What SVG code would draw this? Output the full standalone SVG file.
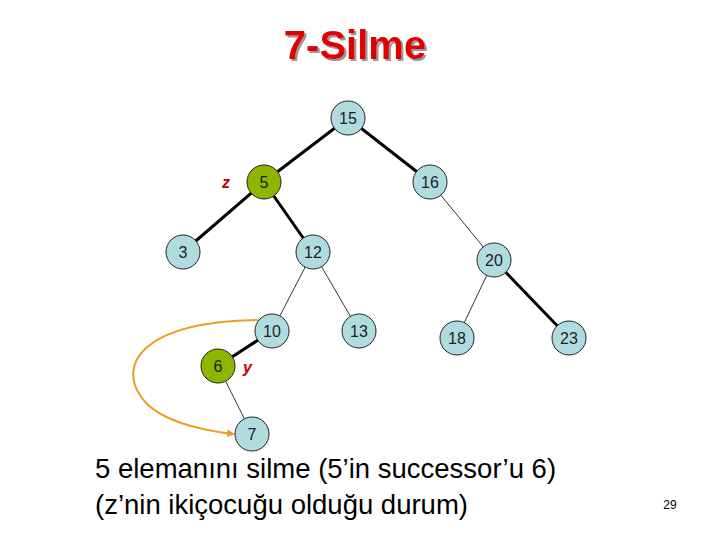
<svg xmlns="http://www.w3.org/2000/svg" width="720" height="540" viewBox="0 0 720 540">
<style>
.n{fill:#b0dce0;stroke:#222;stroke-width:1}
.g{fill:#8db600;stroke:#222;stroke-width:1}
.t{font-family:"Liberation Sans",Arial,sans-serif;font-size:16px;fill:#222;text-anchor:middle}
.thick{stroke:#000;stroke-width:3}
.thin{stroke:#000;stroke-width:0.8}
.lab{font-family:"Liberation Sans",Arial,sans-serif;font-size:16px;font-weight:bold;fill:#c00000;font-style:italic}
</style>
<defs><marker id="ar" markerWidth="8" markerHeight="8" refX="6" refY="4" orient="auto" markerUnits="userSpaceOnUse"><path d="M0,0 L8,4 L0,8 z" fill="#e8a020"/></marker>
<filter id="sh"><feDropShadow dx="2" dy="2" stdDeviation="0.5" flood-color="#999"/></filter></defs>
<rect width="720" height="540" fill="#fff"/>
<text x="355" y="59" font-family="Liberation Sans,Arial,sans-serif" font-size="40" font-weight="bold" fill="#e00000" text-anchor="middle" filter="url(#sh)">7-Silme</text>
<g id="connectors">
<line class="thick" x1="348" y1="118" x2="264" y2="182"/>
<line class="thick" x1="348" y1="118" x2="430" y2="182"/>
<line class="thick" x1="264" y1="182" x2="183" y2="252"/>
<line class="thick" x1="264" y1="182" x2="313" y2="252"/>
<line class="thin" x1="430" y1="182" x2="494" y2="260"/>
<line class="thin" x1="313" y1="252" x2="272" y2="331"/>
<line class="thin" x1="313" y1="252" x2="359" y2="331"/>
<line class="thin" x1="494" y1="260" x2="457" y2="338"/>
<line class="thick" x1="494" y1="260" x2="569" y2="338"/>
<line class="thick" x1="272" y1="331" x2="218" y2="366"/>
<line class="thin" x1="218" y1="366" x2="252" y2="434"/>
<path d="M258,320 C140,322 120,365 140,395 C155,420 200,430 233,434" fill="none" stroke="#e8a020" stroke-width="2" marker-end="url(#ar)"/>
</g>
<g id="n15"><circle class="n" cx="348" cy="118" r="17"/><text class="t" x="348" y="124">15</text></g>
<g id="n5"><circle class="g" cx="264" cy="182" r="17"/><text class="t" x="264" y="188">5</text></g>
<g id="n16"><circle class="n" cx="430" cy="182" r="17"/><text class="t" x="430" y="188">16</text></g>
<g id="n3"><circle class="n" cx="183" cy="252" r="17"/><text class="t" x="183" y="258">3</text></g>
<g id="n12"><circle class="n" cx="313" cy="252" r="17"/><text class="t" x="313" y="258">12</text></g>
<g id="n20"><circle class="n" cx="494" cy="260" r="17"/><text class="t" x="494" y="266">20</text></g>
<g id="n10"><circle class="n" cx="272" cy="331" r="17"/><text class="t" x="272" y="337">10</text></g>
<g id="n13"><circle class="n" cx="359" cy="331" r="17"/><text class="t" x="359" y="337">13</text></g>
<g id="n18"><circle class="n" cx="457" cy="338" r="17"/><text class="t" x="457" y="344">18</text></g>
<g id="n23"><circle class="n" cx="569" cy="338" r="17"/><text class="t" x="569" y="344">23</text></g>
<g id="n6"><circle class="g" cx="218" cy="366" r="17"/><text class="t" x="218" y="372">6</text></g>
<g id="n7"><circle class="n" cx="252" cy="434" r="17"/><text class="t" x="252" y="440">7</text></g>
<text class="lab" x="222" y="188" font-style="normal">z</text>
<text class="lab" x="243" y="373">y</text>
<text x="95" y="478" font-family="Liberation Sans,Arial,sans-serif" font-size="27.5" fill="#000">5 elemanını silme (5’in successor’u 6)</text>
<text x="95" y="514" font-family="Liberation Sans,Arial,sans-serif" font-size="27.5" fill="#000">(z’nin ikiçocuğu olduğu durum)</text>
<text x="670" y="509" font-family="Liberation Sans,Arial,sans-serif" font-size="12" fill="#000" text-anchor="middle">29</text>
</svg>
